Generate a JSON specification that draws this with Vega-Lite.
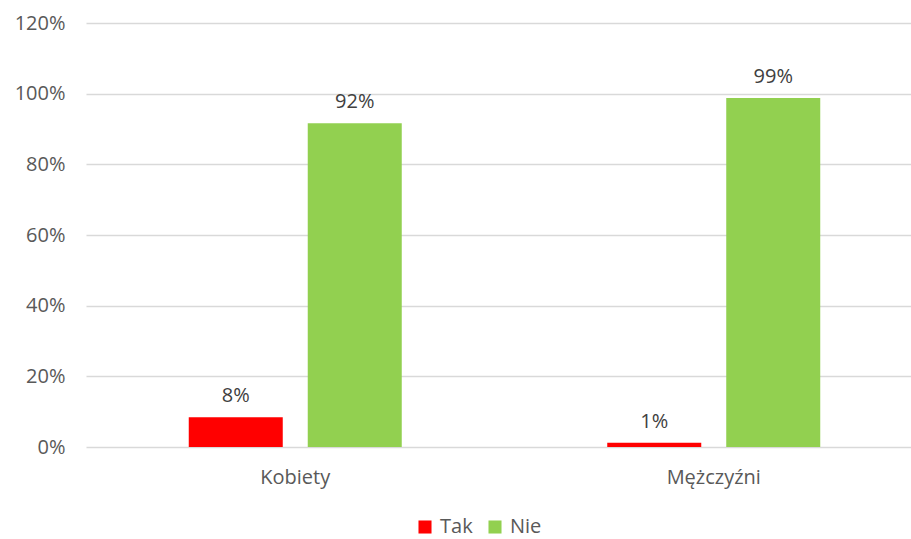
{
  "$schema": "https://vega.github.io/schema/vega-lite/v6.json",
  "width": 825,
  "height": 424,
  "autosize": {"type": "none"},
  "padding": {"left": 86, "top": 23, "right": 0, "bottom": 92},
  "background": "white",
  "config": {
    "view": {"stroke": null},
    "font": "Open Sans",
    "axis": {"labelFont": "Open Sans", "labelFontSize": 20, "labelColor": "#595959"}
  },
  "data": {
    "values": [
      {"grupa": "Kobiety", "odp": "Tak", "v": 0.084, "label": "8%"},
      {"grupa": "Kobiety", "odp": "Nie", "v": 0.916, "label": "92%"},
      {"grupa": "Mężczyźni", "odp": "Tak", "v": 0.012, "label": "1%"},
      {"grupa": "Mężczyźni", "odp": "Nie", "v": 0.988, "label": "99%"}
    ]
  },
  "encoding": {
    "x": {
      "field": "grupa", "type": "nominal", "sort": ["Kobiety", "Mężczyźni"],
      "scale": {"range": [0, 837], "paddingInner": 0, "paddingOuter": 0},
      "axis": {"title": null, "labelAngle": 0, "ticks": false, "domain": false, "labelPadding": 20, "grid": false}
    },
    "xOffset": {
      "field": "odp", "type": "nominal", "sort": ["Tak", "Nie"],
      "scale": {"paddingInner": 0.21, "paddingOuter": 0.8635}
    },
    "y": {
      "field": "v", "type": "quantitative",
      "scale": {"domain": [0, 1.2], "nice": false},
      "axis": {"title": null, "format": "%", "values": [0, 0.2, 0.4, 0.6, 0.8, 1.0, 1.2], "ticks": false, "domain": false, "labelPadding": 21, "gridColor": "#d9d9d9", "gridWidth": 1.3}
    }
  },
  "layer": [
    {
      "mark": {"type": "bar"},
      "encoding": {
        "color": {
          "field": "odp", "type": "nominal", "sort": ["Tak", "Nie"],
          "scale": {"domain": ["Tak", "Nie"], "range": ["#FF0000", "#92D050"]},
          "legend": {
            "title": null, "orient": "none", "direction": "horizontal",
            "legendX": 329, "legendY": 494,
            "symbolType": "square", "symbolSize": 170, "symbolStrokeWidth": 0,
            "labelFontSize": 20, "labelColor": "#595959", "labelFont": "Open Sans",
            "columnPadding": 12, "labelOffset": 5
          }
        }
      }
    },
    {
      "mark": {"type": "text", "dy": -21, "fontSize": 20, "color": "#404040", "font": "Open Sans"},
      "encoding": {"text": {"field": "label"}}
    }
  ]
}
